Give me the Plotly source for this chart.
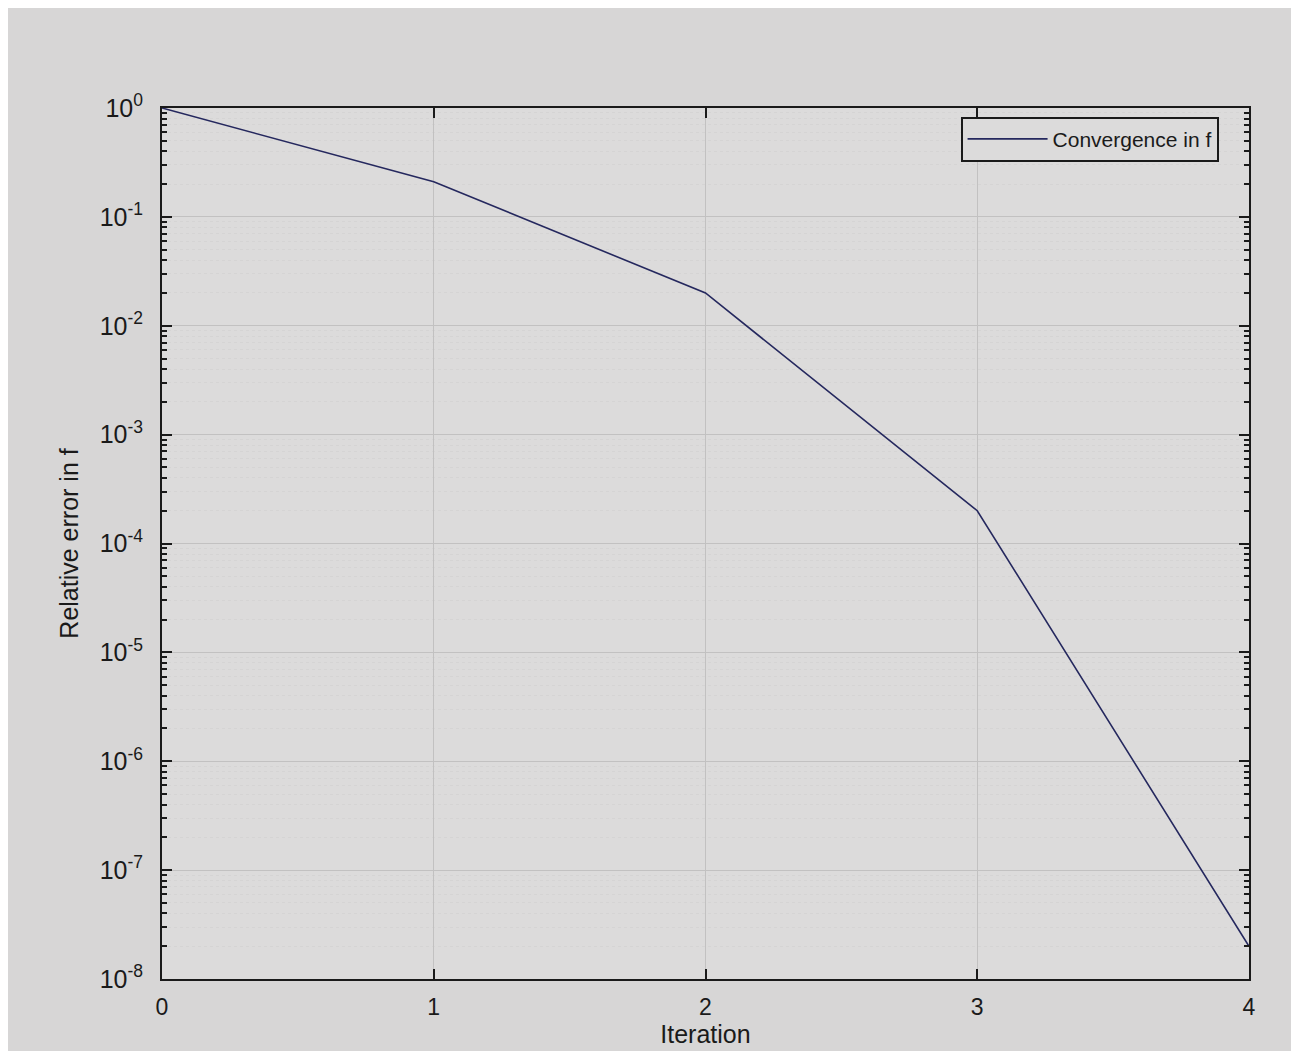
import plotly.graph_objects as go

iterations = [0, 1, 2, 3, 4]
rel_error = [1.0, 0.21, 0.02, 2.0e-4, 2.0e-8]

y_tick_vals = [1e-8, 1e-7, 1e-6, 1e-5, 1e-4, 1e-3, 1e-2, 1e-1, 1e0]
y_tick_text = ["10<sup>-8</sup>", "10<sup>-7</sup>", "10<sup>-6</sup>", "10<sup>-5</sup>",
               "10<sup>-4</sup>", "10<sup>-3</sup>", "10<sup>-2</sup>", "10<sup>-1</sup>",
               "10<sup>0</sup>"]
x_tick_vals = [0, 1, 2, 3, 4]
minor_mults = [2, 3, 4, 5, 6, 7, 8, 9]
y_minor_vals = [m * d for d in y_tick_vals[:-1] for m in minor_mults]

fig = go.Figure()
fig.add_trace(go.Scatter(
    x=iterations, y=rel_error, mode="lines",
    name="Convergence in f",
    line=dict(color="#25285e", width=1.6),
))

font_family = "Liberation Sans, Arial, sans-serif"

fig.update_layout(
    width=1299, height=1051,
    paper_bgcolor="#d7d6d6",
    plot_bgcolor="#dcdbdb",
    margin=dict(l=154, r=58, t=100, b=80),
    font=dict(family=font_family, size=22, color="#1a1a1a"),
    showlegend=True,
    legend=dict(
        x=0.972, y=0.99, xanchor="right", yanchor="top",
        bgcolor="#dcdbdb", bordercolor="#1a1a1a", borderwidth=2,
        font=dict(size=21, color="#1a1a1a"),
        itemwidth=80,
    ),
    xaxis=dict(
        range=[0, 4],
        tickvals=x_tick_vals,
        ticks="inside", ticklen=10, tickwidth=2, tickcolor="#1a1a1a",
        showline=True, linecolor="#1a1a1a", linewidth=2, mirror="ticks",
        showgrid=True, gridcolor="#c2c1c1", gridwidth=1,
        zeroline=False,
        ticklabelstandoff=6,
        title=dict(text="Iteration", font=dict(size=25), standoff=2),
        tickfont=dict(size=23),
    ),
    yaxis=dict(
        type="log",
        range=[-8, 0],
        tickvals=y_tick_vals,
        ticktext=y_tick_text,
        ticks="inside", ticklen=10, tickwidth=2, tickcolor="#1a1a1a",
        showline=True, linecolor="#1a1a1a", linewidth=2, mirror="ticks",
        showgrid=True, gridcolor="#c2c1c1", gridwidth=1,
        minor=dict(tickmode="array", tickvals=y_minor_vals,
                   ticks="inside", ticklen=5, tickwidth=1.5, tickcolor="#1a1a1a",
                   showgrid=True, gridcolor="#d5d4d4", griddash="dot"),
        zeroline=False,
        ticklabelstandoff=12,
        title=dict(text="Relative error in f", font=dict(size=25), standoff=14),
        tickfont=dict(size=25),
    ),
)

fig.write_html("out.html")
